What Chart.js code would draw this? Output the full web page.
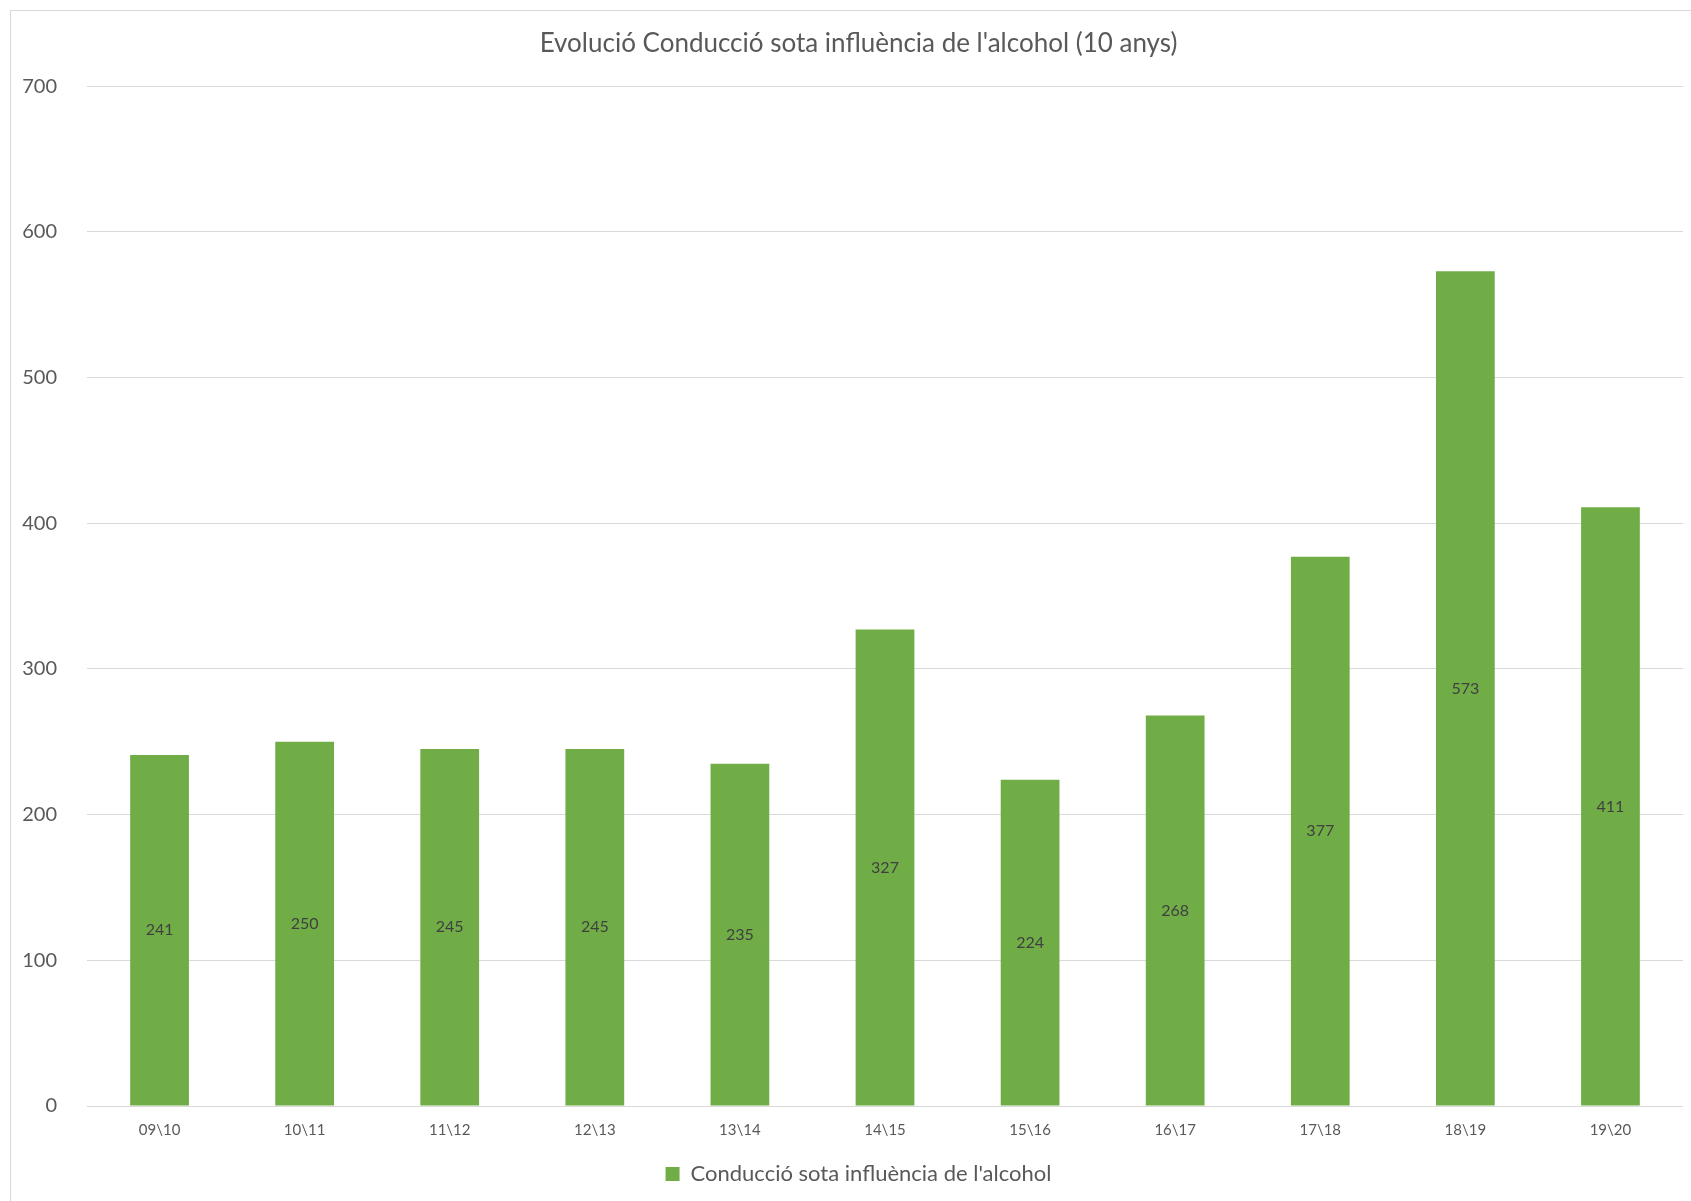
<!DOCTYPE html>
<html>
<head>
<meta charset="utf-8">
<script src="https://cdn.jsdelivr.net/npm/chart.js@4.4.1/dist/chart.umd.min.js"></script>
<style>
  html, body { margin: 0; padding: 0; background: #fff; }
  #wrap { position: relative; width: 1691px; height: 1201px; }
  #frame { position: absolute; left: 10px; top: 10px; width: 1700px; height: 1220px;
           border-left: 1px solid #d9d9d9; border-top: 1px solid #d9d9d9; pointer-events: none; }
</style>
</head>
<body>
<div id="wrap">
  <canvas id="myChart"></canvas>
  <div id="frame"></div>
</div>
<script>
// chart data
const seasons = ['09\\10', '10\\11', '11\\12', '12\\13', '13\\14', '14\\15', '15\\16', '16\\17', '17\\18', '18\\19', '19\\20'];
const alcoholCases = [241, 250, 245, 245, 235, 327, 224, 268, 377, 573, 411];
const yTicks = [0, 100, 200, 300, 400, 500, 600, 700];

const FONT = 'Lato, "Open Sans", sans-serif';

// simple value labels in the middle of each bar
const centerLabels = {
  id: 'centerLabels',
  afterDatasetsDraw(chart) {
    const c = chart.ctx;
    const meta = chart.getDatasetMeta(0);
    c.save();
    c.font = '16px ' + FONT;
    c.fillStyle = '#404040';
    c.textAlign = 'center';
    c.textBaseline = 'middle';
    meta.data.forEach((bar, i) => {
      c.fillText(String(alcoholCases[i]), bar.x, (bar.y + bar.base) / 2);
    });
    c.restore();
  }
};

// title and legend sit a bit right of the canvas middle (the excel frame runs past the right edge)
const shiftBoxes = {
  id: 'shiftBoxes',
  afterLayout(chart) {
    const dx = 17;
    [chart.titleBlock, chart.legend].forEach(b => {
      if (b) { b.left += dx; b.right += dx; }
    });
  }
};

Chart.defaults.font.family = FONT;
Chart.defaults.color = '#595959';

const ctx = document.getElementById('myChart');
ctx.width = 1691;
ctx.height = 1201;

new Chart(ctx, {
  type: 'bar',
  data: {
    labels: seasons,
    datasets: [{
      label: "Conducció sota influència de l'alcohol",
      data: alcoholCases,
      backgroundColor: '#70ad47',
      borderWidth: 0,
      categoryPercentage: 1,
      barPercentage: 0.405
    }]
  },
  plugins: [centerLabels, shiftBoxes],
  options: {
    responsive: false,
    animation: false,
    layout: { padding: { left: 0, right: 8, top: 0, bottom: 6 } },
    plugins: {
      title: {
        display: true,
        text: "Evolució Conducció sota influència de l'alcohol (10 anys)",
        color: '#595959',
        font: { size: 26, weight: 'normal' },
        padding: { top: 28, bottom: 27 }
      },
      legend: {
        position: 'bottom',
        labels: {
          color: '#595959',
          font: { size: 22 },
          boxWidth: 14,
          boxHeight: 14,
          padding: 10
        }
      },
      tooltip: { enabled: false }
    },
    scales: {
      x: {
        grid: { display: false },
        border: { display: false },
        afterFit(scale) { scale.height += 7; },
        ticks: { color: '#595959', font: { size: 15 }, padding: 7, maxRotation: 0 }
      },
      y: {
        min: 0,
        max: 700,
        afterBuildTicks(scale) { scale.ticks = yTicks.map(v => ({ value: v })); },
        afterFit(scale) { scale.width = 87; },
        grid: { color: '#d9d9d9', drawTicks: false },
        border: { display: false },
        ticks: { color: '#595959', font: { size: 20 }, padding: 30 }
      }
    }
  }
});
</script>
</body>
</html>
